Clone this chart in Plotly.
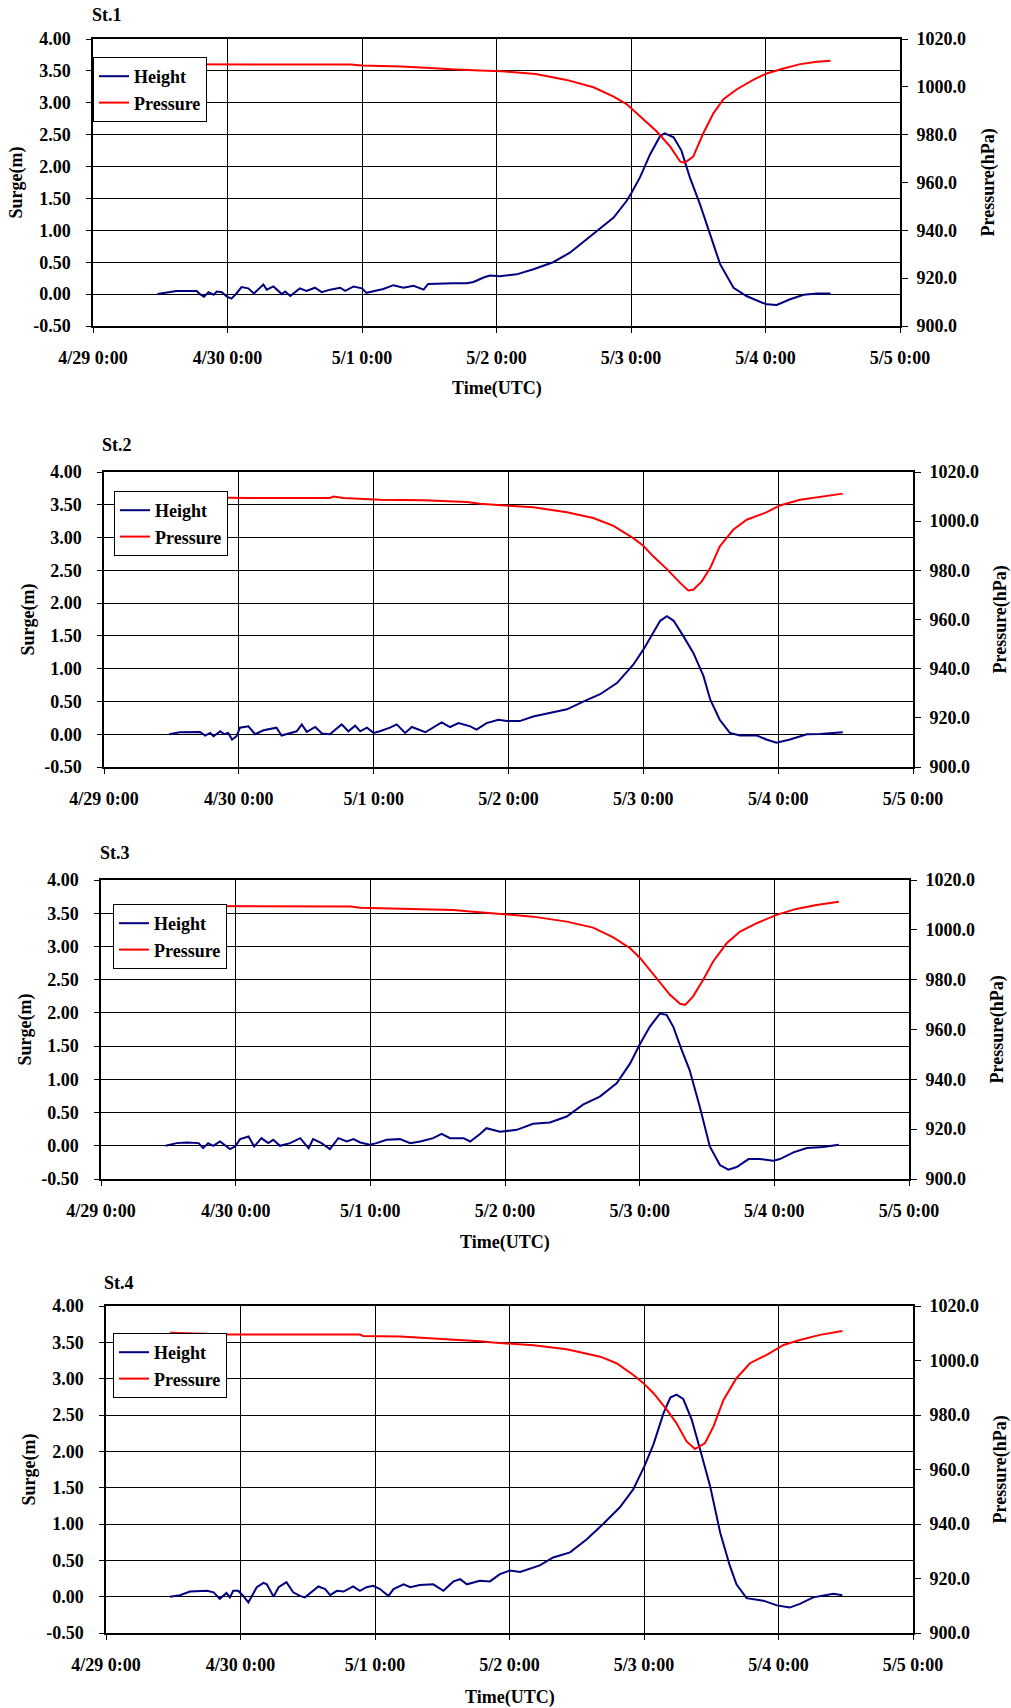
import pandas as pd
import plotly.graph_objects as go

BASE = pd.Timestamp("2008-04-29 00:00")

station_names = ["St.1", "St.2", "St.3", "St.4"]
x_tick_days = ["2008-04-29", "2008-04-30", "2008-05-01", "2008-05-02", "2008-05-03", "2008-05-04", "2008-05-05"]
x_tick_labels = ["4/29 0:00", "4/30 0:00", "5/1 0:00", "5/2 0:00", "5/3 0:00", "5/4 0:00", "5/5 0:00"]
surge_ticks = [-0.5, 0.0, 0.5, 1.0, 1.5, 2.0, 2.5, 3.0, 3.5, 4.0]
pressure_ticks = [900, 920, 940, 960, 980, 1000, 1020]

# ---------------- St.1 ----------------
st1_h_hours = [11.5, 13.7, 14.9, 18.5, 19.1, 19.8, 20.6, 21.5, 22.1, 23.0, 23.9, 24.7, 25.6, 26.5, 27.7,
               28.7, 30.4, 31.0, 32.2, 33.7, 34.3, 35.2, 36.9, 38.1, 39.6, 40.8, 42.3, 44.1, 45.0, 46.5,
               48.0, 48.8, 50.6, 51.8, 53.6, 55.4, 57.2, 59.0, 59.8, 61.9, 64.3, 66.7, 67.9, 69.7, 70.8,
               72.6, 75.6, 78.6, 82.1, 85.1, 89.3, 92.9, 95.2, 96.1, 97.6, 99.4, 101.2, 102.0, 103.6, 105.0,
               106.5, 108.3, 110.1, 111.9, 114.3, 116.6, 119.0, 120.2, 122.0, 124.4, 126.8, 129.2, 131.6]
st1_height = [0.00, 0.04, 0.05, 0.05, 0.00, -0.04, 0.03, -0.01, 0.04, 0.03, -0.04, -0.07, 0.01, 0.11, 0.09,
              0.01, 0.15, 0.07, 0.12, 0.00, 0.04, -0.03, 0.09, 0.05, 0.10, 0.03, 0.07, 0.10, 0.05, 0.12,
              0.09, 0.02, 0.05, 0.08, 0.14, 0.10, 0.13, 0.07, 0.16, 0.17, 0.17, 0.17, 0.19, 0.26, 0.29,
              0.28, 0.31, 0.39, 0.50, 0.65, 0.94, 1.20, 1.46, 1.59, 1.83, 2.19, 2.48, 2.52, 2.46, 2.25,
              1.83, 1.41, 0.94, 0.47, 0.10, -0.03, -0.12, -0.16, -0.17, -0.08, -0.01, 0.01, 0.01]
st1_p_hours = [12.0, 46.0, 48.0, 55.0, 61.0, 64.0, 69.0, 73.0, 79.0, 84.5, 89.3, 92.9, 95.2, 97.6, 100.6,
               103.0, 104.8, 105.6, 107.1, 108.9, 110.7, 112.5, 114.9, 117.8, 120.2, 123.2, 126.2, 129.2, 131.6]
st1_pressure = [1009.4, 1009.3, 1008.9, 1008.5, 1007.8, 1007.3, 1006.8, 1006.5, 1005.4, 1002.9, 999.8, 995.9,
                992.8, 987.5, 981.3, 975.0, 968.7, 968.3, 970.8, 980.6, 988.9, 994.8, 999.0, 1002.9, 1005.6,
                1007.7, 1009.5, 1010.5, 1010.9]

# ---------------- St.2 ----------------
st2_h_hours = [11.6, 13.5, 17.1, 18.0, 18.9, 19.5, 20.7, 21.4, 22.1, 22.8, 23.6, 24.2, 25.7, 26.9, 28.4,
               29.6, 30.7, 31.6, 33.1, 34.3, 35.2, 36.1, 37.6, 38.8, 40.2, 41.4, 42.3, 43.5, 44.7, 45.6,
               46.8, 48.0, 49.1, 50.9, 52.1, 53.6, 54.8, 57.2, 58.6, 60.1, 61.6, 63.1, 65.2, 66.3, 68.1,
               70.2, 71.7, 74.0, 76.4, 79.4, 82.4, 85.4, 88.3, 91.3, 94.2, 96.0, 97.8, 99.0, 100.2, 101.4,
               103.1, 104.9, 106.7, 107.9, 109.6, 111.4, 113.2, 116.2, 117.9, 119.7, 122.1, 125.1, 127.5,
               129.8, 131.5]
st2_height = [0.00, 0.03, 0.035, -0.02, 0.02, -0.03, 0.045, 0.00, 0.02, -0.08, -0.03, 0.10, 0.12, 0.00, 0.06,
              0.08, 0.10, -0.02, 0.02, 0.045, 0.15, 0.035, 0.11, 0.01, 0.00, 0.08, 0.15, 0.045, 0.13, 0.045,
              0.10, 0.02, 0.045, 0.10, 0.15, 0.02, 0.11, 0.03, 0.10, 0.18, 0.11, 0.17, 0.12, 0.07, 0.17,
              0.22, 0.20, 0.20, 0.27, 0.33, 0.38, 0.50, 0.61, 0.78, 1.06, 1.29, 1.55, 1.73, 1.80, 1.73,
              1.50, 1.24, 0.89, 0.53, 0.22, 0.02, -0.02, -0.02, -0.08, -0.13, -0.08, 0.00, 0.005,
              0.02, 0.03]
st2_p_hours = [12.0, 25.7, 40.2, 40.8, 42.6, 49.1, 56.9, 61.0, 64.6, 66.9, 69.3, 72.0, 76.4, 82.4, 87.1,
               90.7, 94.2, 96.0, 97.8, 100.2, 102.6, 104.0, 104.9, 106.4, 107.9, 109.6, 112.0, 114.4, 117.9,
               120.3, 123.9, 127.5, 131.5]
st2_pressure = [1009.8, 1009.4, 1009.4, 1010.0, 1009.4, 1008.7, 1008.5, 1008.1, 1007.8, 1007.1, 1006.6, 1006.3,
                1005.7, 1003.6, 1001.3, 998.1, 993.1, 990.0, 985.6, 980.5, 974.8, 971.8, 972.1, 975.5, 980.9,
                989.7, 996.5, 1000.6, 1003.6, 1006.4, 1008.7, 1009.8, 1011.2]

# ---------------- St.3 ----------------
st3_h_hours = [11.5, 13.5, 15.3, 17.4, 18.2, 19.1, 20.0, 21.2, 23.0, 23.9, 24.8, 26.3, 27.3, 28.6, 29.8,
               30.7, 31.9, 33.7, 35.5, 37.0, 37.8, 39.3, 40.8, 42.3, 43.8, 45.0, 46.2, 47.9, 49.1, 50.9,
               53.3, 55.1, 56.9, 59.2, 60.7, 62.2, 64.6, 65.8, 67.6, 68.7, 71.1, 74.1, 77.0, 80.0, 83.0,
               85.9, 88.9, 91.9, 94.3, 96.1, 97.8, 99.6, 100.8, 102.0, 103.5, 104.9, 106.7, 108.5, 110.3,
               111.8, 113.3, 115.4, 117.4, 119.8, 121.0, 123.4, 125.8, 128.7, 131.5]
st3_height = [0.00, 0.04, 0.05, 0.04, -0.035, 0.04, 0.00, 0.065, -0.05, -0.01, 0.10, 0.14, -0.01, 0.115, 0.04,
              0.09, 0.00, 0.04, 0.115, -0.035, 0.10, 0.04, -0.05, 0.115, 0.065, 0.10, 0.05, 0.015, 0.04, 0.09,
              0.10, 0.04, 0.065, 0.115, 0.18, 0.115, 0.115, 0.065, 0.18, 0.265, 0.21, 0.24, 0.33, 0.35, 0.44,
              0.62, 0.74, 0.94, 1.24, 1.54, 1.79, 1.99, 1.97, 1.79, 1.44, 1.14, 0.59, -0.01, -0.29,
              -0.36, -0.32, -0.20, -0.20, -0.225, -0.20, -0.10, -0.035, -0.02, 0.015]
st3_p_hours = [12.0, 44.5, 46.2, 53.3, 59.2, 62.8, 65.8, 68.2, 71.1, 77.0, 83.0, 87.7, 91.3, 94.3, 96.1,
               97.8, 99.6, 101.4, 103.2, 104.1, 105.5, 107.3, 109.1, 111.5, 113.9, 116.8, 120.4, 123.9, 127.5,
               131.5]
st3_pressure = [1009.6, 1009.4, 1008.9, 1008.6, 1008.2, 1008.0, 1007.4, 1006.9, 1006.4, 1005.3, 1003.3, 1000.9,
                997.0, 992.6, 988.6, 983.9, 978.6, 973.9, 970.3, 969.9, 973.2, 979.9, 987.3, 994.6, 999.3,
                1002.6, 1006.0, 1008.4, 1010.0, 1011.3]

# ---------------- St.4 ----------------
st4_h_hours = [11.4, 13.2, 15.0, 18.0, 19.2, 20.3, 21.5, 22.1, 22.7, 23.6, 24.5, 25.4, 26.9, 28.1, 28.7,
               29.9, 30.8, 32.2, 33.4, 34.6, 35.5, 36.7, 37.9, 39.1, 40.0, 41.2, 42.4, 44.1, 45.3, 46.5,
               47.7, 48.9, 50.4, 51.3, 53.1, 54.3, 56.0, 58.4, 60.2, 62.0, 63.2, 64.4, 66.7, 68.5, 70.3,
               72.1, 73.9, 77.4, 79.8, 82.8, 85.8, 88.7, 91.7, 94.1, 96.1, 97.7, 99.5, 100.7, 101.8, 103.0,
               104.5, 106.0, 107.8, 109.6, 111.3, 112.5, 114.3, 117.3, 119.7, 122.0, 123.8, 126.2, 129.8, 131.4]
st4_height = [0.00, 0.02, 0.07, 0.08, 0.06, -0.03, 0.05, -0.01, 0.08, 0.08, 0.01, -0.08, 0.13, 0.19, 0.17,
              0.00, 0.13, 0.20, 0.06, 0.01, -0.01, 0.06, 0.14, 0.105, 0.02, 0.08, 0.07, 0.14, 0.08, 0.13,
              0.15, 0.105, 0.01, 0.105, 0.17, 0.13, 0.16, 0.17, 0.08, 0.21, 0.24, 0.17, 0.22, 0.21, 0.31,
              0.36, 0.34, 0.43, 0.54, 0.61, 0.79, 1.00, 1.23, 1.48, 1.80, 2.10, 2.53, 2.74, 2.78, 2.72,
              2.44, 2.03, 1.52, 0.88, 0.43, 0.17, -0.02, -0.055, -0.12, -0.15, -0.10, -0.01, 0.04, 0.02]
st4_p_hours = [11.4, 21.7, 45.3, 45.9, 52.5, 58.4, 64.4, 66.7, 69.1, 73.0, 76.3, 82.2, 88.2, 91.1, 94.1,
               95.9, 97.7, 100.1, 101.8, 103.6, 105.1, 106.9, 108.4, 110.2, 112.5, 114.9, 117.9, 120.9, 123.8,
               127.4, 131.4]
st4_pressure = [1010.2, 1009.5, 1009.5, 1009.0, 1008.8, 1008.2, 1007.5, 1007.1, 1006.6, 1006.2, 1005.6, 1004.1,
                1001.4, 999.0, 994.7, 991.7, 988.0, 981.9, 977.0, 970.3, 967.5, 969.7, 975.8, 985.6, 993.5,
                999.0, 1002.1, 1005.7, 1007.5, 1009.4, 1010.8]

height_hours = [st1_h_hours, st2_h_hours, st3_h_hours, st4_h_hours]
heights = [st1_height, st2_height, st3_height, st4_height]
pressure_hours = [st1_p_hours, st2_p_hours, st3_p_hours, st4_p_hours]
pressures = [st1_pressure, st2_pressure, st3_pressure, st4_pressure]

# ---------------- layout geometry (pixels) ----------------
W, H = 1011, 1708
# plot area: left, right, top, bottom
boxes = [(93, 900, 39, 326), (104, 913, 472, 767), (101, 909, 880, 1179), (106, 913, 1306, 1633)]
legend_pos = [(93, 57), (114, 491), (113, 904), (113, 1333)]
title_pos = [(90, 15), (100, 445), (98, 853), (102, 1283)]
ytitle_x = [16, 28, 25, 29]
y2title_x = [988, 1000, 997, 1000]
xtitle_y = [388, None, 1242, 1697]

FONT = "Liberation Serif, Times New Roman, serif"
BLUE = "#000080"
RED = "#FF0000"


def px(x):
    return x / W


def py(y):
    return 1 - y / H


def to_time(hours):
    return BASE + pd.to_timedelta(hours, unit="h")


def bold_font(size=18):
    return dict(family=FONT, size=size, color="black", weight="bold")


fig = go.Figure()
layout = dict(
    width=W, height=H, margin=dict(l=0, r=0, t=0, b=0, pad=0, autoexpand=False),
    paper_bgcolor="white", plot_bgcolor="white",
    font=bold_font(18),
)
annotations = []

for i in range(4):
    n = i + 1
    xa = "x" if n == 1 else f"x{n}"
    ya = "y" if n == 1 else f"y{2 * n - 1}"
    ya2 = f"y{2 * n}"
    lg = "legend" if n == 1 else f"legend{n}"

    fig.add_trace(go.Scatter(
        x=to_time(height_hours[i]), y=heights[i], mode="lines", name="Height",
        line=dict(color=BLUE, width=2), xaxis=xa, yaxis=ya, legend=lg))
    fig.add_trace(go.Scatter(
        x=to_time(pressure_hours[i]), y=pressures[i], mode="lines", name="Pressure",
        line=dict(color=RED, width=2), xaxis=xa, yaxis=ya2, legend=lg))

    L, R, T, B = boxes[i]
    xkey = "xaxis" if n == 1 else f"xaxis{n}"
    ykey = "yaxis" if n == 1 else f"yaxis{2 * n - 1}"
    y2key = f"yaxis{2 * n}"

    layout[xkey] = dict(
        domain=[px(L), px(R)], anchor=ya, type="date", automargin=False,
        range=[x_tick_days[0], x_tick_days[-1]],
        tickvals=x_tick_days, ticktext=x_tick_labels,
        showgrid=True, gridcolor="black", gridwidth=1,
        showline=True, linecolor="black", linewidth=1.5, mirror=True,
        ticks="outside", ticklen=5, tickcolor="black", ticklabelstandoff=10,
        tickfont=bold_font(18), zeroline=False,
    )
    layout[ykey] = dict(
        domain=[py(B), py(T)], anchor=xa, automargin=False,
        range=[surge_ticks[0], surge_ticks[-1]],
        tickvals=surge_ticks, ticktext=[f"{v:.2f}" for v in surge_ticks],
        showgrid=True, gridcolor="black", gridwidth=1,
        showline=True, linecolor="black", linewidth=1.5, mirror=True,
        ticks="outside", ticklen=5, tickcolor="black", ticklabelstandoff=12,
        tickfont=bold_font(18), zeroline=False,
    )
    layout[y2key] = dict(
        domain=[py(B), py(T)], anchor=xa, overlaying=ya, side="right", automargin=False,
        range=[pressure_ticks[0], pressure_ticks[-1]],
        tickvals=pressure_ticks, ticktext=[f"{v:.1f}" for v in pressure_ticks], showgrid=False,
        showline=False, ticks="outside", ticklen=7, tickcolor="black", ticklabelstandoff=5,
        tickfont=bold_font(18), zeroline=False,
    )
    layout[lg] = dict(
        x=px(legend_pos[i][0]), y=py(legend_pos[i][1]), xanchor="left", yanchor="top",
        bgcolor="white", bordercolor="black", borderwidth=1,
        font=bold_font(18),
    )

    annotations.append(dict(
        text=station_names[i], xref="paper", yref="paper",
        x=px(title_pos[i][0]), y=py(title_pos[i][1]), xanchor="left", yanchor="middle",
        showarrow=False, font=bold_font(18)))
    annotations.append(dict(
        text="Surge(m)", xref="paper", yref="paper", textangle=-90,
        x=px(ytitle_x[i]), y=py((T + B) / 2), xanchor="center", yanchor="middle",
        showarrow=False, font=bold_font(18)))
    annotations.append(dict(
        text="Pressure(hPa)", xref="paper", yref="paper", textangle=-90,
        x=px(y2title_x[i]), y=py((T + B) / 2), xanchor="center", yanchor="middle",
        showarrow=False, font=bold_font(18)))
    if xtitle_y[i] is not None:
        annotations.append(dict(
            text="Time(UTC)", xref="paper", yref="paper",
            x=px((L + R) / 2), y=py(xtitle_y[i]), xanchor="center", yanchor="middle",
            showarrow=False, font=bold_font(18)))

layout["annotations"] = annotations
fig.update_layout(**layout)
fig.write_html(
    "out.html",
    config={"displayModeBar": False},
    post_script="document.body.style.margin='0';document.body.style.overflow='hidden';",
)
